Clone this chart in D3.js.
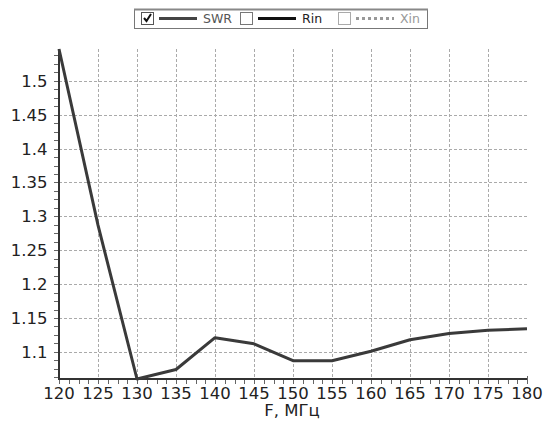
<!DOCTYPE html>
<html>
<head>
<meta charset="utf-8">
<script src="https://cdn.jsdelivr.net/npm/d3@7"></script>
<style>
  html, body { margin: 0; padding: 0; background: #fff; }
  svg { display: block; font-family: "DejaVu Sans", Verdana, sans-serif; }
</style>
</head>
<body>
<svg id="chart" width="545" height="427"></svg>
<script>
// Frequency points, MHz
const freqs = [120, 125, 130, 135, 140, 145, 150, 155, 160, 165, 170, 175, 180];
// Standing wave ratio at each frequency
const swr = [1.547, 1.287, 1.06, 1.074, 1.121, 1.112, 1.087, 1.087, 1.101, 1.118, 1.127, 1.132, 1.134];
// Axis tick values
const xTicks = [120, 125, 130, 135, 140, 145, 150, 155, 160, 165, 170, 175, 180];
const yTicks = [1.1, 1.15, 1.2, 1.25, 1.3, 1.35, 1.4, 1.45, 1.5];
// Legend entries
const legendItems = [
  { name: "SWR", checked: true,  color: "#444", dash: null, text: "#555", box: "#555" },
  { name: "Rin", checked: false, color: "#111", dash: null, text: "#222", box: "#777" },
  { name: "Xin", checked: false, color: "#999", dash: "3,3", text: "#999", box: "#aaa" }
];

const svg = d3.select("#chart");
const plotL = 59, plotR = 527, plotT = 49, plotB = 379;
const fs = 16.5;

const x = d3.scaleLinear().domain(d3.extent(freqs)).range([plotL, plotR]);
const y = d3.scaleLinear().domain(d3.extent(swr)).range([plotB, plotT]);

// Grid
const grid = svg.append("g").attr("stroke", "#aaa").attr("stroke-width", 1)
  .attr("stroke-dasharray", "3,2").attr("shape-rendering", "crispEdges");
grid.selectAll(".gy").data(yTicks).join("line")
  .attr("x1", plotL).attr("x2", plotR)
  .attr("y1", d => Math.round(y(d)) + 0.5).attr("y2", d => Math.round(y(d)) + 0.5);
grid.selectAll(".gx").data(xTicks.slice(1, -1)).join("line")
  .attr("y1", plotT).attr("y2", plotB)
  .attr("x1", d => Math.round(x(d)) + 0.5).attr("x2", d => Math.round(x(d)) + 0.5);

// Minor ticks
const xMinor = d3.range(120, 180.001, 1.25);
const yMinor = d3.range(1.0625, 1.547, 0.0125);
const ticks = svg.append("g").attr("stroke", "#666").attr("stroke-width", 1).attr("shape-rendering", "crispEdges");
ticks.selectAll(".tx").data(xMinor).join("line")
  .attr("x1", d => Math.round(x(d)) + 0.5).attr("x2", d => Math.round(x(d)) + 0.5)
  .attr("y1", plotB).attr("y2", plotB + 5);
ticks.selectAll(".ty").data(yMinor).join("line")
  .attr("y1", d => Math.round(y(d)) + 0.5).attr("y2", d => Math.round(y(d)) + 0.5)
  .attr("x1", plotL - 5).attr("x2", plotL);
// end cap on the x axis
ticks.append("line").attr("x1", plotR + 0.5).attr("x2", plotR + 0.5)
  .attr("y1", plotB - 3).attr("y2", plotB + 5);

// Axis lines
svg.append("line").attr("x1", plotL).attr("x2", plotL).attr("y1", plotT).attr("y2", plotB + 1)
  .attr("stroke", "#333").attr("stroke-width", 2);
svg.append("line").attr("x1", plotL - 1).attr("x2", plotR).attr("y1", plotB).attr("y2", plotB)
  .attr("stroke", "#333").attr("stroke-width", 2);

// Tick labels
svg.append("g").selectAll("text").data(yTicks).join("text")
  .attr("x", 47.5).attr("y", d => y(d)).attr("dy", "0.36em")
  .attr("text-anchor", "end").attr("font-size", fs).attr("fill", "#222")
  .text(d => d3.format("")(d));
svg.append("g").selectAll("text").data(xTicks).join("text")
  .attr("x", d => x(d)).attr("y", 398.5)
  .attr("text-anchor", "middle").attr("font-size", fs).attr("fill", "#222")
  .text(d => d);
svg.append("text").attr("x", 292).attr("y", 416).attr("text-anchor", "middle")
  .attr("font-size", fs).attr("fill", "#222").text("F, МГц");

// SWR curve
svg.append("path").datum(freqs.map((f, i) => [f, swr[i]]))
  .attr("fill", "none").attr("stroke", "#3a3a3a").attr("stroke-width", 3)
  .attr("stroke-linejoin", "round")
  .attr("d", d3.line().x(d => x(d[0])).y(d => y(d[1])));

// Legend
const lg = svg.append("g");
lg.append("rect").attr("x", 134.5).attr("y", 9.5).attr("width", 293).attr("height", 19)
  .attr("fill", "#fff").attr("stroke", "#777").attr("stroke-width", 1);
lg.append("line").attr("x1", 134).attr("x2", 428).attr("y1", 9.5).attr("y2", 9.5)
  .attr("stroke", "#888").attr("stroke-width", 2);
const offsets = [141, 240, 338];
legendItems.forEach((it, i) => {
  const g = lg.append("g").attr("transform", `translate(${offsets[i]},0)`);
  g.append("rect").attr("x", 0.5).attr("y", 12.5).attr("width", 12).attr("height", 12)
    .attr("fill", "#fff").attr("stroke", it.box);
  if (it.checked) {
    g.append("path").attr("d", "M3,18 L5.5,21 L10,14").attr("fill", "none")
      .attr("stroke", "#111").attr("stroke-width", 2);
  }
  g.append("line").attr("x1", 18).attr("x2", 56).attr("y1", 18.5).attr("y2", 18.5)
    .attr("stroke", it.color).attr("stroke-width", 3)
    .attr("stroke-dasharray", it.dash);
  g.append("text").attr("x", 62).attr("y", 23).attr("font-size", 12.5)
    .attr("fill", it.text).text(it.name);
});
</script>
</body>
</html>
